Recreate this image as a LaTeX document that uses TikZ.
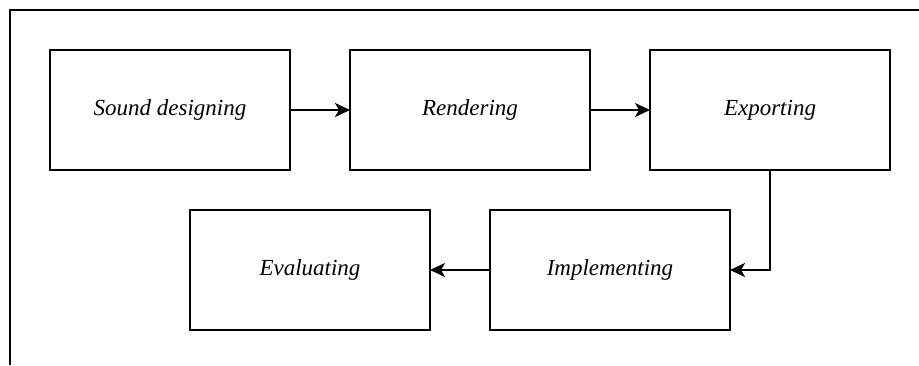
\documentclass[tikz,border=0pt]{standalone}
\usepackage{fontspec}
\setmainfont{Liberation Serif}
\usetikzlibrary{arrows.meta,positioning}

\begin{document}
\begin{tikzpicture}[x=1pt,y=1pt]

  \tikzstyle{every node}=[font=\fontsize{23}{27}\selectfont\itshape]

  \tikzset{stepbox/.style={draw,line width=2pt,minimum width=240pt,minimum height=120pt,inner sep=0pt,outer sep=0pt}}
  \tikzset{myptr/.style={line width=1.8pt,-{Stealth[length=15pt,width=14pt,inset=4pt]}}}

  \useasboundingbox (0,0) rectangle (919,-365);

  % Frame
  \draw[line width=1.5pt] (919,-10) -- (10,-10) -- (10,-365);

  % Steps
  \node[stepbox] (Sound designing) at (170,-110) {Sound designing};
  \node[stepbox,right=60pt of Sound designing] (Rendering) {Rendering};
  \node[stepbox,right=60pt of Rendering] (Exporting) {Exporting};
  \node[stepbox,below=40pt of Exporting,xshift=-160pt] (Implementing) {Implementing};
  \node[stepbox,left=60pt of Implementing] (Evaluating) {Evaluating};

  % Connectors
  \draw[myptr] (Sound designing) -- (Rendering);
  \draw[myptr] (Rendering) -- (Exporting);
  \draw[myptr] (Exporting.south) |- (Implementing.east);
  \draw[myptr] (Implementing) -- (Evaluating);

\end{tikzpicture}
\end{document}
